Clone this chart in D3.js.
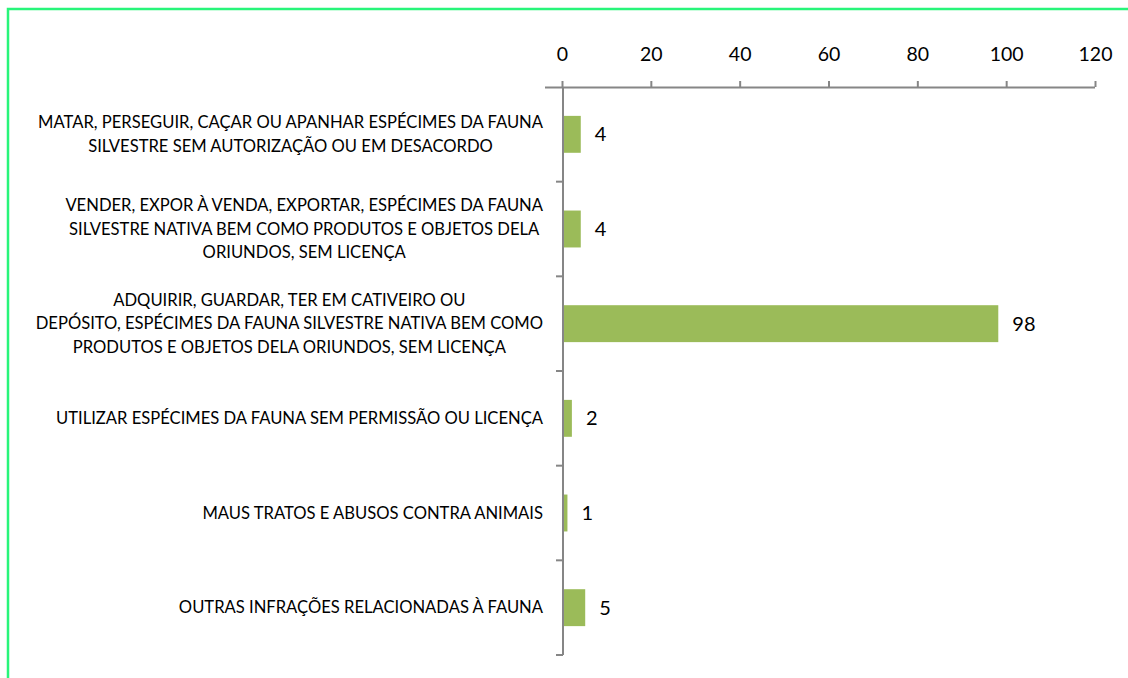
<!DOCTYPE html>
<html>
<head>
<meta charset="utf-8">
<script src="https://cdn.jsdelivr.net/npm/d3@7"></script>
<style>
  body { margin: 0; background: #fff; }
  text { font-family: Lato, "Open Sans", sans-serif; fill: #000; }
</style>
</head>
<body>
<div id="chart"></div>
<script>
// chart size
const width = 1128;
const height = 678;
const margin = {left: 563, right: 33, top: 87, bottom: 23};

// data
const categories = [
  ["MATAR, PERSEGUIR, CAÇAR OU APANHAR ESPÉCIMES DA FAUNA", "SILVESTRE SEM AUTORIZAÇÃO OU EM DESACORDO"],
  ["VENDER, EXPOR À VENDA, EXPORTAR, ESPÉCIMES DA FAUNA", "SILVESTRE NATIVA BEM COMO PRODUTOS E OBJETOS DELA", "ORIUNDOS, SEM LICENÇA"],
  ["ADQUIRIR, GUARDAR, TER EM CATIVEIRO OU", "DEPÓSITO, ESPÉCIMES DA FAUNA SILVESTRE NATIVA BEM COMO", "PRODUTOS E OBJETOS DELA ORIUNDOS, SEM LICENÇA"],
  ["UTILIZAR ESPÉCIMES DA FAUNA SEM PERMISSÃO OU LICENÇA"],
  ["MAUS TRATOS E ABUSOS CONTRA ANIMAIS"],
  ["OUTRAS INFRAÇÕES RELACIONADAS À FAUNA"]
];
const values = [4, 4, 98, 2, 1, 5];
const xTicks = [0, 20, 40, 60, 80, 100, 120];

const svg = d3.select("#chart")
  .append("svg")
  .attr("width", width)
  .attr("height", height);

// green frame (only top and left are visible in the picture)
svg.append("path")
  .attr("d", `M8,${height} L8,9 L${width},9`)
  .attr("fill", "none")
  .attr("stroke", "#28f57a")
  .attr("stroke-width", 2.5);

// scales
const xScale = d3.scaleLinear()
  .domain([0, 120])
  .range([margin.left - 1, width - margin.right]);

const yScale = d3.scaleBand()
  .domain(d3.range(categories.length))
  .range([margin.top, height - margin.bottom])
  .paddingInner(0.61)
  .paddingOuter(0.305);

const bandStep = yScale.step();

// x axis on top
const xAxis = svg.append("g")
  .attr("transform", `translate(0, ${margin.top})`)
  .call(d3.axisTop(xScale).tickValues(xTicks).tickSize(6).tickPadding(20).tickSizeOuter(0));
xAxis.select(".domain").attr("stroke", "#868686").attr("stroke-width", 2)
  .attr("d", `M${xScale(0) - 17},0.5H${xScale(120)}`);
xAxis.selectAll(".tick line").attr("stroke", "#868686").attr("stroke-width", 2);
xAxis.selectAll(".tick text")
  .style("font-size", "19.5px")
  .style("font-family", "Lato, sans-serif")
  .attr("fill", "#000");

// y axis: line with ticks at band boundaries
const yAxis = svg.append("g");
yAxis.append("line")
  .attr("x1", margin.left).attr("x2", margin.left)
  .attr("y1", margin.top).attr("y2", height - margin.bottom)
  .attr("stroke", "#868686").attr("stroke-width", 2);
yAxis.selectAll(".ytick")
  .data(d3.range(1, categories.length + 1))
  .enter()
  .append("line")
  .attr("x1", margin.left - 7).attr("x2", margin.left)
  .attr("y1", i => margin.top + i * bandStep)
  .attr("y2", i => margin.top + i * bandStep)
  .attr("stroke", "#868686").attr("stroke-width", 2);

// bars
svg.selectAll(".bar")
  .data(values)
  .enter()
  .append("rect")
  .attr("class", "bar")
  .attr("x", xScale(0) + 2)
  .attr("y", (d, i) => yScale(i))
  .attr("width", d => xScale(d) - xScale(0) - 1)
  .attr("height", yScale.bandwidth())
  .attr("fill", "#9bbb59");

// value labels
svg.selectAll(".val")
  .data(values)
  .enter()
  .append("text")
  .attr("x", d => xScale(d) + 15)
  .attr("y", (d, i) => yScale(i) + yScale.bandwidth() / 2)
  .attr("dy", "0.35em")
  .style("font-size", "20px")
  .text(d => d);

// category labels, each line centred inside a right-aligned block
const lineH = 23.5;
const labelRight = 543;
categories.forEach((lines, i) => {
  const g = svg.append("g");
  const cy = yScale(i) + yScale.bandwidth() / 2;
  const texts = g.selectAll("text")
    .data(lines)
    .enter()
    .append("text")
    .attr("y", (d, j) => cy + (j - (lines.length - 1) / 2) * lineH)
    .attr("dy", "0.35em")
    .attr("text-anchor", "middle")
    .style("font-size", "16.6px")
    .text(d => d);
  let maxW = 0;
  texts.each(function() { maxW = Math.max(maxW, this.getComputedTextLength()); });
  texts.attr("x", labelRight - maxW / 2);
});
</script>
</body>
</html>
